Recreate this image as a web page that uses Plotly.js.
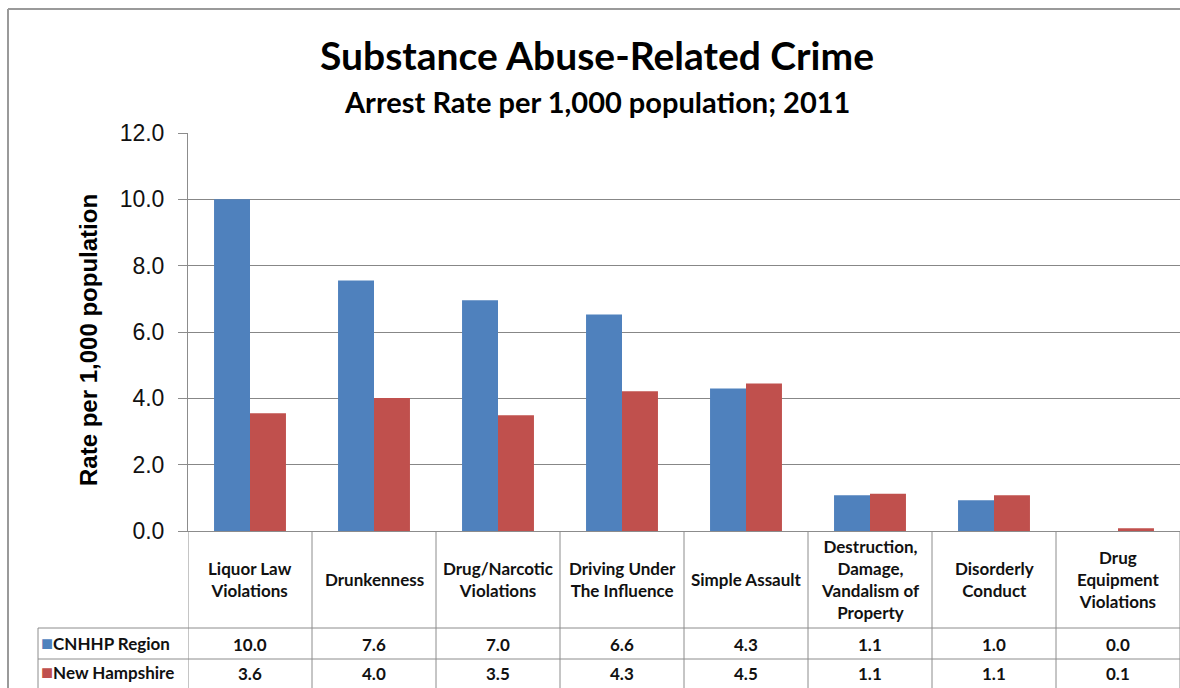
<!DOCTYPE html>
<html>
<head>
<meta charset="utf-8">
<script src="https://cdn.plot.ly/plotly-3.0.1.min.js"></script>
<style>
  html, body { margin: 0; padding: 0; background: #ffffff; }
  #chart { width: 1180px; height: 688px; }
</style>
</head>
<body>
<div id="chart"></div>
<script>
// ---- data ----
const categories = ["Liquor Law Violations", "Drunkenness", "Drug/Narcotic Violations",
  "Driving Under The Influence", "Simple Assault", "Destruction, Damage, Vandalism of Property",
  "Disorderly Conduct", "Drug Equipment Violations"];
const categoryLabels = ["Liquor Law<br>Violations", "Drunkenness", "Drug/Narcotic<br>Violations",
  "Driving Under<br>The Influence", "Simple Assault", "Destruction,<br>Damage,<br>Vandalism of<br>Property",
  "Disorderly<br>Conduct", "Drug<br>Equipment<br>Violations"];
const seriesNames = ["CNHHP Region", "New Hampshire"];
const cnhhp = [10.0, 7.55, 6.96, 6.53, 4.30, 1.08, 0.93, 0.0];
const newHampshire = [3.55, 4.01, 3.49, 4.21, 4.45, 1.12, 1.08, 0.08];
const cnhhpTable = ["10.0", "7.6", "7.0", "6.6", "4.3", "1.1", "1.0", "0.0"];
const nhTable = ["3.6", "4.0", "3.5", "4.3", "4.5", "1.1", "1.1", "0.1"];
const yTickVals = [0, 2, 4, 6, 8, 10, 12];
const yTickText = ["0.0", "2.0", "4.0", "6.0", "8.0", "10.0", "12.0"];

// ---- style ----
const BLUE = "#4F81BD", RED = "#C0504D", GRID = "#878787", LINE = "#8c8c8c";
const tableFont = {family: "Lato, 'Open Sans', sans-serif", size: 17, color: "#111111", weight: "bold"};

// plot area: x 188..1180, y 133..531
const W = 1180, H = 688, L = 188, T = 133, B = 531;
const pw = W - L, ph = B - T;
const px = X => (X - L) / pw;         // pixel -> paper x
const py = Y => (B - Y) / ph;         // pixel -> paper y

const traces = [
  {type: "bar", x: categories, y: cnhhp, name: seriesNames[0], marker: {color: BLUE}, hoverinfo: "skip"},
  {type: "bar", x: categories, y: newHampshire, name: seriesNames[1], marker: {color: RED}, hoverinfo: "skip"}
];

const shapes = [];
const annotations = [];

// outer chart border (left + top)
shapes.push({type: "line", xref: "paper", yref: "paper", x0: px(8), x1: px(8), y0: py(9), y1: py(700), line: {color: "#9a9a9a", width: 2}});
shapes.push({type: "line", xref: "paper", yref: "paper", x0: px(8), x1: px(1185), y0: py(9), y1: py(9), line: {color: "#9a9a9a", width: 2}});

// table grid
const rowTop = 628, rowMid = 659, rowBot = 690;
const tableLeft = px(38);
categories.forEach((c, i) => {
  shapes.push({type: "line", xref: "x", yref: "paper", x0: i - 0.5, x1: i - 0.5, y0: py(B), y1: py(rowBot), line: {color: LINE, width: 1}});
});
shapes.push({type: "line", xref: "x", yref: "paper", x0: categories.length - 0.5, x1: categories.length - 0.5, y0: py(B), y1: py(rowBot), line: {color: LINE, width: 1}});
[rowTop, rowMid].forEach(Y => {
  shapes.push({type: "line", xref: "paper", yref: "paper", x0: tableLeft, x1: 1, y0: py(Y), y1: py(Y), line: {color: LINE, width: 1}});
});
shapes.push({type: "line", xref: "paper", yref: "paper", x0: tableLeft, x1: tableLeft, y0: py(rowTop), y1: py(rowBot), line: {color: LINE, width: 1}});

// header row (category labels) and value rows
categories.forEach((c, i) => {
  annotations.push({xref: "x", yref: "paper", x: i, y: py((B + rowTop) / 2), text: categoryLabels[i],
    showarrow: false, xanchor: "center", yanchor: "middle", align: "center", font: tableFont});
  annotations.push({xref: "x", yref: "paper", x: i, y: py((rowTop + rowMid) / 2 + 1), text: cnhhpTable[i],
    showarrow: false, xanchor: "center", yanchor: "middle", font: tableFont});
  annotations.push({xref: "x", yref: "paper", x: i, y: py((rowMid + rowBot) / 2 - 1), text: nhTable[i],
    showarrow: false, xanchor: "center", yanchor: "middle", font: tableFont});
});

// legend keys in table
[[seriesNames[0], BLUE, (rowTop + rowMid) / 2 - 2], [seriesNames[1], RED, (rowMid + rowBot) / 2 - 4]].forEach(([name, col, Y]) => {
  annotations.push({xref: "paper", yref: "paper", x: px(39), y: py(Y), xanchor: "left", yanchor: "middle",
    showarrow: false, text: `<span style="color:${col};font-size:20px">■</span>${name}`, font: tableFont});
});

// y-axis title
annotations.push({xref: "paper", yref: "paper", x: px(88), y: py(340), text: "Rate per 1,000 population",
  textangle: -90, showarrow: false, xanchor: "center", yanchor: "middle",
  font: {family: "'Liberation Sans', Arial, sans-serif", size: 24, color: "#000", weight: "bold"}});

// subtitle
annotations.push({xref: "paper", yref: "paper", x: px(597), y: py(101), text: "Arrest Rate per 1,000 population; 2011",
  showarrow: false, xanchor: "center", yanchor: "middle",
  font: {family: "Lato, 'Open Sans', sans-serif", size: 29, color: "#000", weight: "bold"}});

const layout = {
  width: W, height: H,
  margin: {l: L, r: 0, t: T, b: H - B, pad: 0},
  paper_bgcolor: "#ffffff", plot_bgcolor: "#ffffff",
  showlegend: false,
  barmode: "group", bargap: 0.42, bargroupgap: 0,
  title: {text: "Substance Abuse-Related Crime", x: 597 / W, xanchor: "center", y: 1 - 56 / H, yanchor: "middle",
    font: {family: "Lato, 'Open Sans', sans-serif", size: 39, color: "#000", weight: "bold"}},
  xaxis: {type: "category", range: [-0.5, categories.length - 0.5], showticklabels: false, ticks: "",
    showgrid: false, zeroline: false, showline: true, linecolor: LINE, linewidth: 1, fixedrange: true},
  yaxis: {range: [0, 12], tickvals: yTickVals, ticktext: yTickText, ticks: "outside", ticklen: 9, tickcolor: LINE,
    tickwidth: 1, showline: true, linecolor: LINE, linewidth: 1, showgrid: true, gridcolor: GRID, gridwidth: 1,
    zeroline: false, ticklabelstandoff: 9,
    tickfont: {family: "'Liberation Sans', Arial, sans-serif", size: 23, color: "#111"}, fixedrange: true},
  shapes: shapes,
  annotations: annotations
};

Plotly.newPlot("chart", traces, layout, {displayModeBar: false, staticPlot: true});
</script>
</body>
</html>
